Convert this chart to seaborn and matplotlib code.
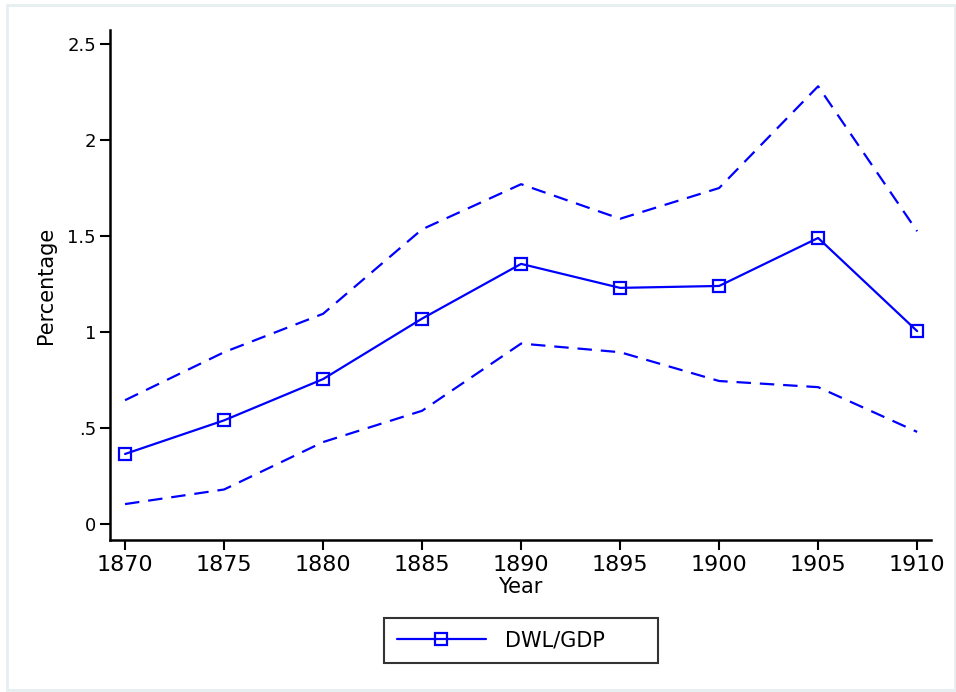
import matplotlib
matplotlib.use("Agg")
import matplotlib.pyplot as plt
from matplotlib.lines import Line2D
from matplotlib.patches import Rectangle
import seaborn as sns
import pandas as pd

years = [1870, 1875, 1880, 1885, 1890, 1895, 1900, 1905, 1910]
dwl_gdp = [0.365, 0.54, 0.755, 1.07, 1.355, 1.23, 1.24, 1.49, 1.005]
upper = [0.645, 0.895, 1.095, 1.535, 1.77, 1.59, 1.75, 2.28, 1.525]
lower = [0.104, 0.18, 0.427, 0.59, 0.94, 0.895, 0.745, 0.713, 0.48]
y_ticks = [0, 0.5, 1, 1.5, 2, 2.5]
y_tick_labels = ["0", ".5", "1", "1.5", "2", "2.5"]
x_ticks = years

sns.set_style("white")
plt.rcParams['font.family'] = ['DejaVu Sans']
plt.rcParams['text.color'] = 'black'
plt.rcParams['axes.labelcolor'] = 'black'
plt.rcParams['xtick.color'] = 'black'
plt.rcParams['ytick.color'] = 'black'

df = pd.DataFrame({"Year": years, "DWL/GDP": dwl_gdp, "upper": upper, "lower": lower})

fig = plt.figure(figsize=(9.56, 6.92), dpi=100)
fig.patch.set_facecolor("white")
fig.patches.append(Rectangle((7/956, 1-690/692), 948/956, 685/692, transform=fig.transFigure,
                             fill=False, edgecolor="#e6eef0", linewidth=2))
ax = fig.add_axes([110/956, 1-540/692, 821/956, 510/692])

blue = "#0000ff"
sns.lineplot(data=df, x="Year", y="upper", ax=ax, color=blue, linewidth=1.6,
             linestyle=(0, (6.5, 4)))
sns.lineplot(data=df, x="Year", y="lower", ax=ax, color=blue, linewidth=1.6,
             linestyle=(0, (6.5, 4)))
sns.lineplot(data=df, x="Year", y="DWL/GDP", ax=ax, color=blue, linewidth=1.6,
             marker="s", markersize=8, markerfacecolor="none", markeredgecolor=blue,
             markeredgewidth=1.6)

ax.set_xlim(1869.24, 1910.7)
ax.set_ylim(-0.083, 2.573)
ax.set_xticks(x_ticks)
ax.set_xticklabels([str(y) for y in x_ticks], fontsize=16)
ax.set_yticks(y_ticks)
ax.set_yticklabels(y_tick_labels, fontsize=13)
ax.tick_params(axis="x", direction="out", length=7, width=1.5, pad=4, bottom=True)
ax.tick_params(axis="y", direction="out", length=7, width=1.5, pad=3, left=True)
for s in ["top", "right"]:
    ax.spines[s].set_visible(False)
for s in ["left", "bottom"]:
    ax.spines[s].set_linewidth(1.8)
    ax.spines[s].set_color("black")
ax.set_xlabel("Year", fontsize=15, labelpad=1)
ax.set_ylabel("Percentage", fontsize=15, labelpad=8)

handle = Line2D([], [], color=blue, linewidth=1.6, marker="s", markersize=8,
                markerfacecolor="none", markeredgecolor=blue, markeredgewidth=1.6)
leg = fig.legend([handle], ["DWL/GDP"], loc="center",
                 bbox_to_anchor=(384/956, 1-663/692, 274/956, 46/692), mode="expand",
                 fontsize=15, frameon=True, fancybox=False, edgecolor="black",
                 handlelength=4.3, borderpad=0.6, handletextpad=0.9, borderaxespad=0)
leg.get_frame().set_linewidth(1.5)

fig.savefig("out.png", dpi=100)
